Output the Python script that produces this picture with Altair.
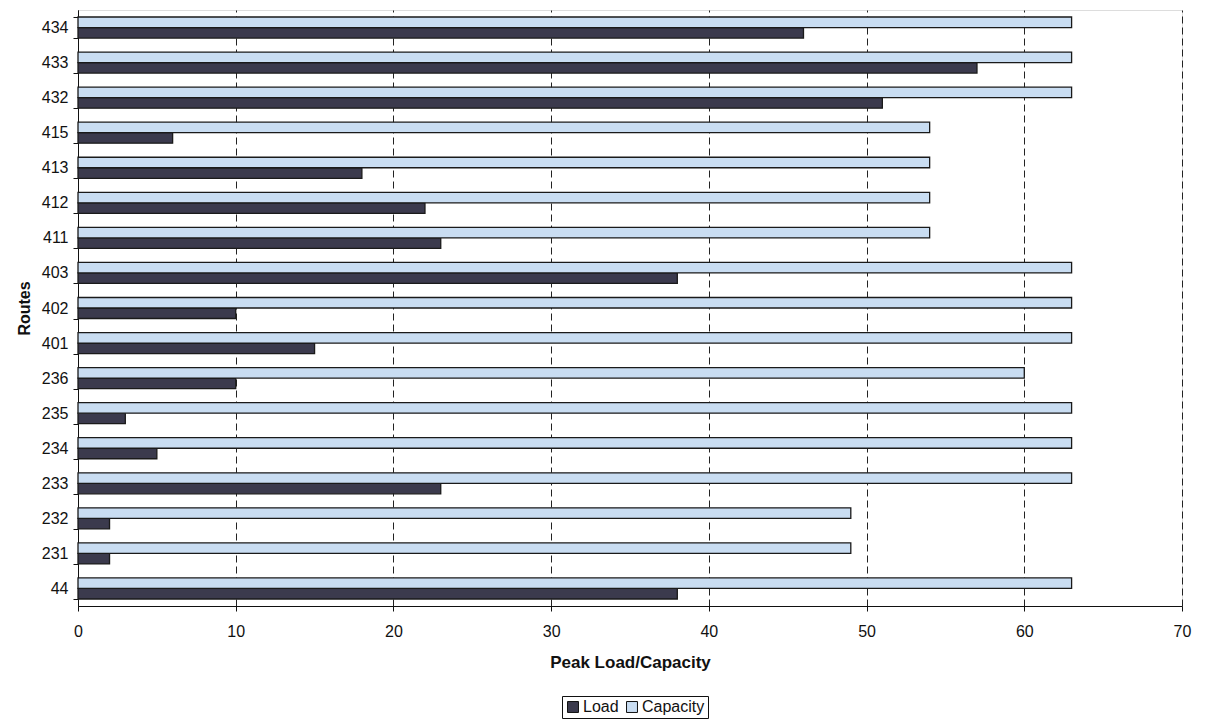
import altair as alt
import pandas as pd

routes = ["434", "433", "432", "415", "413", "412", "411", "403", "402",
          "401", "236", "235", "234", "233", "232", "231", "44"]
load = [46, 57, 51, 6, 18, 22, 23, 38, 10, 15, 10, 3, 5, 23, 2, 2, 38]
capacity = [63, 63, 63, 54, 54, 54, 54, 63, 63, 63, 60, 63, 63, 63, 49, 49, 63]
series = ["Load", "Capacity"]
colors = ["#3b3a4d", "#c9ddf2"]
x_ticks = [0, 10, 20, 30, 40, 50, 60, 70]

rows = []
for r, l, c in zip(routes, load, capacity):
    rows.append({"Route": r, "Series": "Load", "Value": l})
    rows.append({"Route": r, "Series": "Capacity", "Value": c})
df = pd.DataFrame(rows)

FONT = "Liberation Sans"

chart = alt.Chart(df).mark_bar(stroke="#1a1a1a", strokeWidth=1.3).encode(
    y=alt.Y("Route:N", sort=routes,
            scale=alt.Scale(paddingInner=0.4, paddingOuter=0.2),
            axis=alt.Axis(title="Routes", titleFont=FONT, titleFontSize=16,
                          titleFontWeight="bold", titleColor="#111",
                          titlePadding=9,
                          labelFont=FONT, labelFontSize=16, labelColor="#111",
                          tickBand="extent", tickSize=5, tickColor="#111",
                          labelPadding=5, domainColor="#111", grid=False)),
    yOffset=alt.YOffset("Series:N", sort=["Capacity", "Load"],
                        scale=alt.Scale(paddingInner=0, paddingOuter=0)),
    x=alt.X("Value:Q", scale=alt.Scale(domain=[0, 70], nice=False),
            axis=alt.Axis(title="Peak Load/Capacity", values=x_ticks,
                          titleFont=FONT, titleFontSize=17, titleFontWeight="bold",
                          titleColor="#111", titlePadding=15,
                          labelFont=FONT, labelFontSize=16, labelColor="#111",
                          labelPadding=12, labelFlush=False,
                          tickSize=5, tickColor="#111",
                          domainColor="#111",
                          grid=True, gridColor="#222", gridDash=[7, 4],
                          gridWidth=1)),
    color=alt.Color("Series:N", scale=alt.Scale(domain=series, range=colors),
                    legend=alt.Legend(title=None, orient="none", legendX=484,
                                      legendY=686, direction="horizontal",
                                      strokeColor="#111", padding=3,
                                      symbolType="square", symbolSize=120,
                                      symbolStrokeColor="#111",
                                      symbolStrokeWidth=1, symbolOpacity=1,
                                      labelFont=FONT, labelFontSize=16,
                                      labelColor="#111", columnPadding=5,
                                      labelOffset=2)),
).properties(
    width=1104, height=596,
    autosize=alt.AutoSizeParams(type="none"),
    padding={"left": 70, "top": 2, "right": 10, "bottom": 115},
).configure_view(stroke="#111", strokeWidth=1.3).configure(background="white")

chart.save("out.html", embed_options={"renderer": "svg", "actions": False})
